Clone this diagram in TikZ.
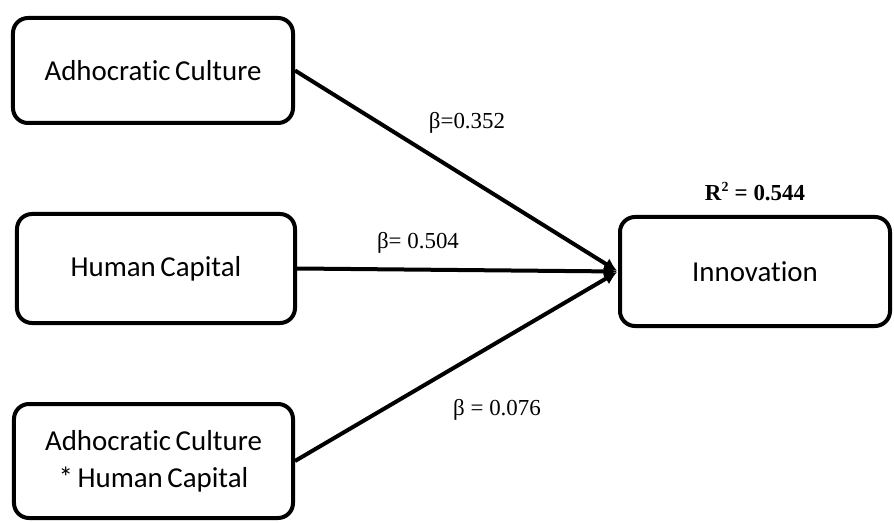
\documentclass[tikz,border=0pt]{standalone}
\usepackage{fontspec}
\setmainfont{Carlito}[Ligatures={NoCommon}, RawFeature={-liga;-clig;-dlig}, WordSpace=0.7]
\newfontfamily\tnr{Liberation Serif}
\usetikzlibrary{arrows.meta}
\newcommand{\adho}{Adhocrat\kern0pt ic}
\tikzset{
  box/.style={draw=black, line width=4bp, rounded corners=15bp, fill=white, align=center,
    font=\fontsize{29}{37}\selectfont, inner sep=0pt},
  link/.style={line width=4bp, -{Latex[length=13bp,width=13bp]}, shorten >=1bp},
  coef/.style={font=\tnr\fontsize{23}{26}\selectfont, inner sep=0pt}
}
\begin{document}
\begin{tikzpicture}[x=1bp,y=-1bp]
\useasboundingbox (0,0) rectangle (894,523);
\node[box, minimum width=280bp, minimum height=105bp] (ac) at (153,70.5) {\adho{} Culture};
\node[box, minimum width=278bp, minimum height=109bp] (hc) at (156,268.5) {Human Capital};
\node[box, minimum width=279bp, minimum height=114bp] (int) at (153.5,461) {\adho{} Culture\\* Human Capital};
\node[box, minimum width=270bp, minimum height=109bp] (inn) at (755,271.5) {Innovat\kern0pt ion};
\draw[link] (ac.east) -- (inn.west);
\draw[link] (hc.east) -- (inn.west);
\draw[link] (int.east) -- (inn.west);
\node[coef] (l1) at (467,123) {β=0.352};
\node[coef] (l2) at (418,243) {β= 0.504};
\node[coef] (l3) at (497,410) {β = 0.076};
\node[coef, font=\tnr\bfseries\fontsize{23}{26}\selectfont] (r2) at (755,192) {R\textsuperscript{\fontsize{14}{14}\selectfont 2} = 0.544};
\end{tikzpicture}
\end{document}
